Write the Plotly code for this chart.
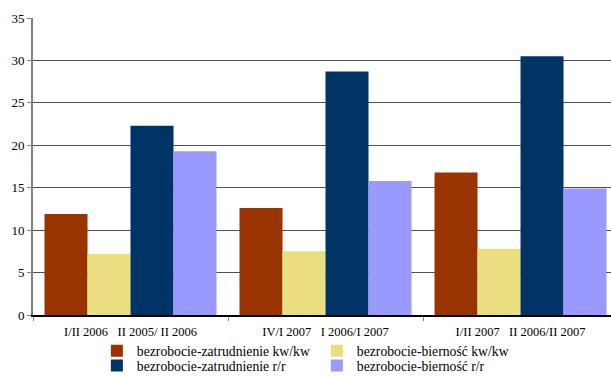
import plotly.graph_objects as go

NB = "\u00a0"
categories = [
    "I/II 2006" + NB * 3 + "II 2005/ II 2006",
    "IV/I 2007" + NB * 3 + "I 2006/I 2007",
    "I/II 2007" + NB * 3 + "II 2006/II 2007",
]
series_names = [
    "bezrobocie-zatrudnienie kw/kw",
    "bezrobocie-bierność kw/kw",
    "bezrobocie-zatrudnienie r/r",
    "bezrobocie-bierność r/r",
]
zatr_kw = [11.9, 12.6, 16.8]
bier_kw = [7.2, 7.5, 7.8]
zatr_rr = [22.3, 28.7, 30.5]
bier_rr = [19.3, 15.8, 14.9]
colors = ["#993300", "#E9DF7F", "#003366", "#9999FF"]
legend_rows = ["legend", "legend", "legend2", "legend2"]

FONT = "Liberation Serif"

fig = go.Figure()
for name, vals, col, lg in zip(series_names, [zatr_kw, bier_kw, zatr_rr, bier_rr], colors, legend_rows):
    fig.add_trace(go.Bar(x=categories, y=vals, name=name, legend=lg,
                         marker=dict(color=col, line=dict(width=0))))

legend_common = dict(
    orientation="h", xref="paper", x=0.1105, xanchor="left",
    yref="container", yanchor="top",
    entrywidth=175, entrywidthmode="pixels",
    font=dict(size=13.7, family=FONT),
    tracegroupgap=0, itemwidth=30,
    bgcolor="rgba(0,0,0,0)",
)

fig.update_layout(
    width=611, height=376,
    margin=dict(l=33, r=0, t=18, b=61),
    paper_bgcolor="white", plot_bgcolor="white",
    barmode="group", bargap=0.118, bargroupgap=0,
    font=dict(family=FONT, color="black"),
    showlegend=True,
    legend=dict(legend_common, y=0.108),
    legend2=dict(legend_common, y=0.069),
)
fig.update_xaxes(
    type="category", range=[-0.5, 2.464], automargin=False,
    showline=True, linecolor="black", linewidth=1.5,
    ticks="outside", tickson="boundaries", ticklen=4, tickcolor="#808080",
    tickfont=dict(size=12.5, family=FONT), ticklabelstandoff=4,
    showgrid=False, fixedrange=True,
)
fig.update_yaxes(
    range=[0, 35], dtick=5, tick0=0, automargin=False,
    showline=True, linecolor="#808080", linewidth=2,
    ticks="outside", ticklen=4, tickcolor="#808080",
    tickfont=dict(size=13, family=FONT),
    showgrid=True, gridcolor="#505050", gridwidth=1,
    zeroline=False,
)
fig.write_html("out.html")
